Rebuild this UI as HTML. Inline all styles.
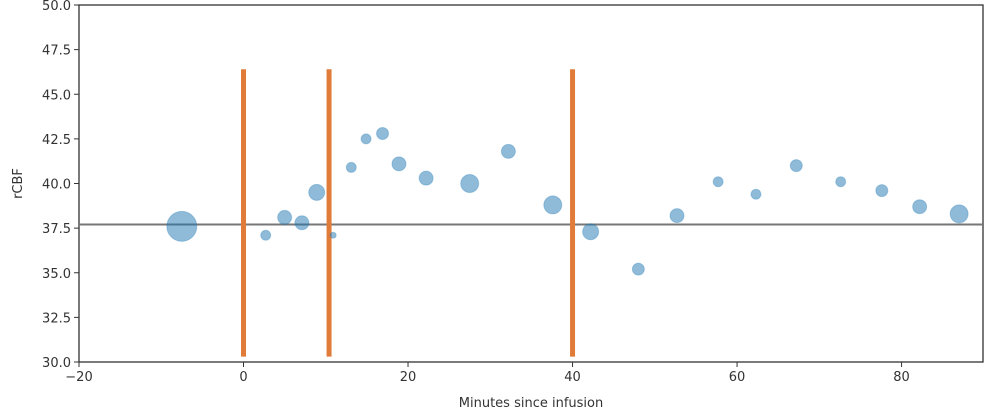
<!DOCTYPE html>
<html><head><meta charset="utf-8"><style>
body{margin:0;background:#fff;width:989px;height:419px;overflow:hidden}
svg{display:block;font-family:"DejaVu Sans","Liberation Sans",sans-serif}
</style></head><body>
<svg id="chart" width="989" height="419" xmlns="http://www.w3.org/2000/svg"></svg>
<script>
const xTicks=[-20,0,20,40,60,80];
const yTicks=[30.0,32.5,35.0,37.5,40.0,42.5,45.0,47.5,50.0];
const ptX=[-7.5,2.7,5.0,7.1,8.9,10.9,13.1,14.9,16.9,18.9,22.2,27.5,32.2,37.6,42.2,48.0,52.7,57.7,62.3,67.2,72.6,77.6,82.2,87.0];
const ptY=[37.6,37.1,38.1,37.8,39.5,37.1,40.9,42.5,42.8,41.1,40.3,40.0,41.8,38.8,37.3,35.2,38.2,40.1,39.4,41.0,40.1,39.6,38.7,38.3];
const ptR=[15,5,7,7,8,3,5,5,6,7,7,9,7,9,8,6,7,5,5,6,5,6,7,9];
const vLines=[0,10.4,40];
const baseline=[37.7];
const NS="http://www.w3.org/2000/svg";
const svg=document.getElementById('chart');
const L=79,R=983,T=5,B=362;
const xmin=-20,xmax=89.9,ymin=30,ymax=50;
const sx=v=>L+(v-xmin)/(xmax-xmin)*(R-L);
const sy=v=>B-(v-ymin)/(ymax-ymin)*(B-T);
function mk(tag,attrs,text){const e=document.createElementNS(NS,tag);for(const k in attrs)e.setAttribute(k,attrs[k]);if(text!==undefined)e.textContent=text;svg.appendChild(e);return e;}
let f=mk('rect',{x:L,y:T,width:R-L,height:B-T,fill:'none',stroke:'#333','stroke-width':1.3});


baseline.forEach(v=>{const l=mk('line',{x1:L,x2:R,y1:sy(v),y2:sy(v),stroke:'#777','stroke-width':2});

});
vLines.forEach(v=>{const l=mk('line',{x1:sx(v),x2:sx(v),y1:sy(30.3),y2:sy(46.4),stroke:'#e07b3a','stroke-width':5});

});
ptX.forEach((x,i)=>{const c=mk('circle',{cx:sx(x),cy:sy(ptY[i]),r:ptR[i],fill:'#1f77b4','fill-opacity':0.5,stroke:'#1f77b4','stroke-opacity':0.3,'stroke-width':1});

});
xTicks.forEach(v=>{mk('line',{x1:sx(v),x2:sx(v),y1:B,y2:B+5,stroke:'#333','stroke-width':1});
const t=mk('text',{x:sx(v),y:B+19,'text-anchor':'middle','font-size':13,fill:'#333'},v<0?'\u2212'+(-v):String(v));

});
yTicks.forEach(v=>{mk('line',{x1:L-5,x2:L,y1:sy(v),y2:sy(v),stroke:'#333','stroke-width':1});
const t=mk('text',{x:L-8,y:sy(v)+5,'text-anchor':'end','font-size':13,fill:'#333'},v.toFixed(1));

});
let xt=mk('text',{x:(L+R)/2,y:407,'text-anchor':'middle','font-size':13,fill:'#333'},'Minutes since infusion');


let yt=mk('text',{x:22,y:(T+B)/2,'text-anchor':'middle','font-size':13,fill:'#333',transform:'rotate(-90 22 '+((T+B)/2)+')'},'rCBF');


</script>
</body></html>
